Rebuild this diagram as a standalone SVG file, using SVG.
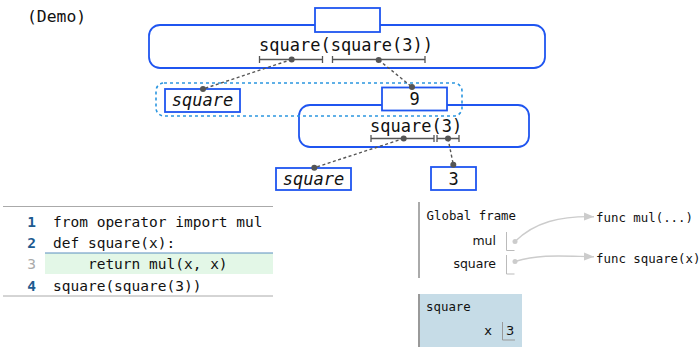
<svg xmlns="http://www.w3.org/2000/svg" width="699" height="347" viewBox="0 0 699 347">
<style>
.mono{font-family:"DejaVu Sans Mono","Liberation Mono",monospace;fill:#111}
.sans{font-family:"DejaVu Sans","Liberation Sans",sans-serif;fill:#111}
.blue{fill:#fff;stroke:#1f55f0;stroke-width:1.8}
.blueo{fill:none;stroke:#1f55f0;stroke-width:1.8}
.conn{stroke:#555;stroke-width:1.4;stroke-dasharray:3,2.5;fill:none}
.dot{fill:#555}
.br{stroke:#555;stroke-width:1.3;fill:none}
.ln{font-family:"DejaVu Sans Mono",monospace;font-weight:bold;fill:#1e5a90;font-size:14.5px;text-anchor:end}
.code{font-family:"DejaVu Sans Mono","Liberation Mono",monospace;font-size:14.5px;fill:#111}
.vl{stroke:#bbb;stroke-width:1;fill:none}
.arr{stroke:#ccc;stroke-width:1.4;fill:none}
</style>
<defs>
<marker id="ah" viewBox="0 0 10 10" refX="10" refY="5" markerWidth="10" markerHeight="10" markerUnits="userSpaceOnUse" orient="auto">
<path d="M0,1 L10,5 L0,9 Z" fill="#ccc"/>
</marker>
</defs>
<rect width="699" height="347" fill="#fff"/>
<text class="mono" x="27" y="22" font-size="16.4">(Demo)</text>

<g id="frame1">
<rect class="blueo" x="149" y="25" width="396" height="43" rx="11"/>
<rect class="blue" x="315" y="8" width="65" height="24"/>
<text class="mono" x="259" y="51" font-size="17">square(square(3))</text>
<path class="br" d="M259.5,59.5H322.5M259.5,56V63M322.5,56V63M332.5,59.5H425M332.5,56V63M425,56V63"/>
</g>

<g id="frame2">
<rect class="blueo" x="299" y="105" width="230" height="42" rx="11"/>
<text class="mono" x="370" y="132" font-size="17">square(3)</text>
<path class="br" d="M371,138.5H434M371,135V142M434,135V142M437,138.5H459M437,135V142M459,135V142"/>
</g>

<g id="group">
<rect x="156" y="83" width="306" height="33" rx="8" fill="none" stroke="#2b96e0" stroke-width="1.6" stroke-dasharray="3,3"/>
</g>

<g id="node-square1">
<rect class="blue" x="165" y="89" width="75" height="23"/>
<text class="mono" x="202.5" y="106" font-size="17" font-style="italic" text-anchor="middle">square</text>
</g>
<g id="node-9">
<rect class="blue" x="382" y="87.5" width="65" height="23"/>
<text class="mono" x="414.5" y="105" font-size="17" text-anchor="middle">9</text>
</g>
<g id="node-square2">
<rect class="blue" x="276" y="168" width="75" height="22"/>
<text class="mono" x="313.5" y="185" font-size="17" font-style="italic" text-anchor="middle">square</text>
</g>
<g id="node-3">
<rect class="blue" x="431" y="167" width="45" height="23"/>
<text class="mono" x="453.5" y="185" font-size="17" text-anchor="middle">3</text>
</g>

<g id="connectors">
<path class="conn" d="M291.7,59.5L203,89"/>
<path class="conn" d="M378.7,60L412,87"/>
<path class="conn" d="M403.7,138.5L314.3,167.7"/>
<path class="conn" d="M448,138.5L453.3,164.7"/>
<circle class="dot" cx="291.7" cy="59.5" r="3"/>
<circle class="dot" cx="203" cy="89" r="3"/>
<circle class="dot" cx="378.7" cy="60" r="3"/>
<circle class="dot" cx="412" cy="87" r="3"/>
<circle class="dot" cx="403.7" cy="138.5" r="3"/>
<circle class="dot" cx="314.3" cy="167.7" r="3"/>
<circle class="dot" cx="448" cy="138.5" r="3"/>
<circle class="dot" cx="453.3" cy="164.7" r="3"/>
</g>

<g id="code">
<line x1="3" y1="206.5" x2="273" y2="206.5" stroke="#aaa" stroke-width="1"/>
<line x1="3" y1="296" x2="273" y2="296" stroke="#aaa" stroke-width="1"/>
<rect x="45" y="253" width="228" height="21" fill="#e3f7e7"/>
<line x1="45" y1="253" x2="273" y2="253" stroke="#5a8fbf" stroke-width="1"/>
<text class="ln" x="36" y="226.5">1</text>
<text class="ln" x="36" y="248">2</text>
<text class="ln" x="36" y="269" style="font-weight:normal;fill:#aaa">3</text>
<text class="ln" x="36" y="290.5">4</text>
<text class="code" x="53" y="226.5">from operator import mul</text>
<text class="code" x="53" y="248">def square(x):</text>
<text class="code" x="53" y="269" xml:space="preserve">    return mul(x, x)</text>
<text class="code" x="53" y="290.5">square(square(3))</text>
</g>

<g id="global-frame">
<line x1="419" y1="202" x2="419" y2="278" stroke="#aaa" stroke-width="2"/>
<text class="mono" x="426.5" y="220" font-size="12.4">Global frame</text>
<text class="sans" x="496" y="245" font-size="12.5" text-anchor="end">mul</text>
<text class="sans" x="496" y="268" font-size="12.5" text-anchor="end">square</text>
<path class="vl" d="M506.5,232V250.5H514.5M506.5,255V274H514.5"/>
<circle cx="515" cy="241.5" r="2.5" fill="#ccc"/>
<circle cx="515" cy="261.5" r="2.5" fill="#ccc"/>
</g>

<g id="func-mul">
<text class="mono" x="596" y="221.5" font-size="12.4">func mul(...)</text>
</g>
<g id="func-square">
<text class="mono" x="596" y="263" font-size="12.4">func square(x)</text>
</g>

<g id="pointers">
<path class="arr" d="M515,241.5C535,222 560,216 594,216.7" marker-end="url(#ah)"/>
<path class="arr" d="M515,261.5C540,254 560,256 594,256.7" marker-end="url(#ah)"/>
</g>

<g id="square-frame">
<rect x="418" y="294" width="104" height="53" fill="#c6dce7"/>
<line x1="419" y1="294" x2="419" y2="347" stroke="#999" stroke-width="2"/>
<text class="mono" x="426" y="311" font-size="12.4">square</text>
<text class="sans" x="492" y="335" font-size="13" text-anchor="end">x</text>
<path d="M502.5,322V340H515" stroke="#999" stroke-width="1" fill="none"/>
<text class="sans" x="506" y="335" font-size="13">3</text>
</g>
</svg>
